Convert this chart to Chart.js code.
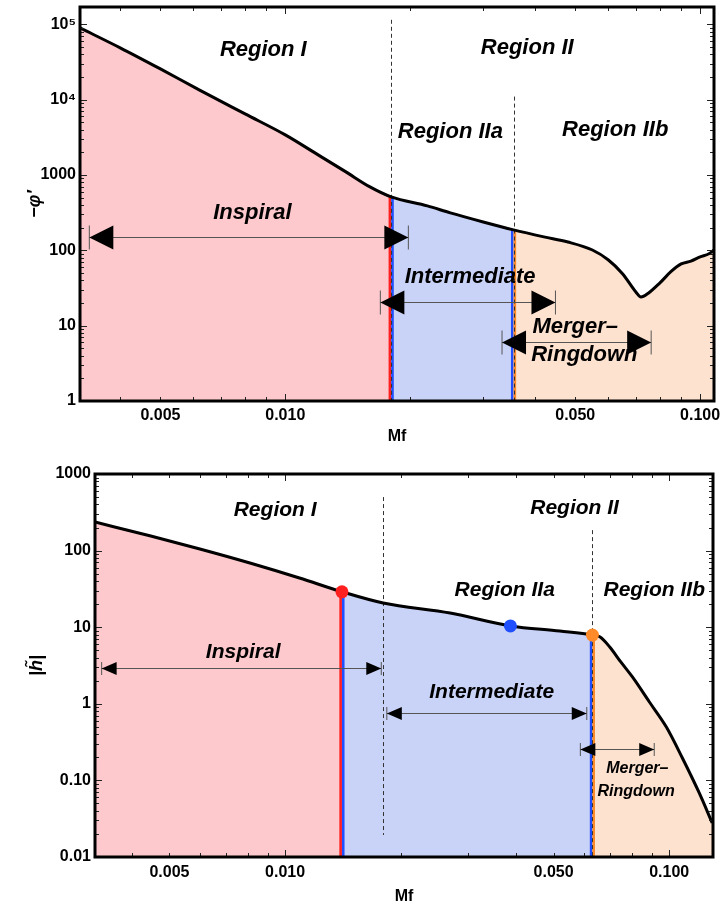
<!DOCTYPE html>
<html>
<head>
<meta charset="utf-8">
<script src="https://cdn.jsdelivr.net/npm/chart.js@4/dist/chart.umd.min.js"></script>
<style>
  html, body { margin: 0; padding: 0; background: #fff; }
  #wrap { position: relative; width: 723px; height: 906px; }
  canvas { position: absolute; left: 0; }
  #phase { top: 0; }
  #amp { top: 452px; }
</style>
</head>
<body>
<div id="wrap">
  <canvas id="phase" width="723" height="452"></canvas>
  <canvas id="amp" width="723" height="454"></canvas>
</div>
<script>
// ---------- upper panel: phase derivative -phi'(Mf) ----------
const phaseMf  = [0.0032, 0.004, 0.005, 0.0062, 0.008, 0.010, 0.012, 0.014, 0.016, 0.018,
                  0.022, 0.025, 0.030, 0.0355, 0.042, 0.048, 0.055, 0.060, 0.065, 0.070,
                  0.072, 0.075, 0.080, 0.085, 0.090, 0.095, 0.100, 0.105, 0.108];
const phaseVal = [89800, 48800, 25600, 13500, 6470, 3410, 1850, 1100, 695, 512,
                  389, 314, 238, 187, 151, 129, 101, 75, 49, 28,
                  24, 27, 37, 52, 66, 72, 82, 90, 101];
const phaseBounds = [0.018, 0.0355];            // Region I | IIa | IIb
const phaseDashX   = [0.018, 0.0355];
const phaseDashTop = [1.15e5, 1.1e4];
const phaseDashBot = [1, 1];
const phaseYTicks  = [1, 10, 100, 1000, 1e4, 1e5];
const phaseYLabels = ['1', '10', '100', '1000', '10\u2074', '10\u2075'];
const phaseArrows  = [            // [from Mf, to Mf, level]
  [0.00337, 0.0198, 151],
  [0.01695, 0.0448, 20.6],
  [0.0333, 0.0762, 6.1]
];
const phaseLabels = [             // [text, Mf, level]
  ['Region I', 0.00885, 4.6e4],
  ['Region II', 0.0383, 4.9e4],
  ['Region IIa', 0.0250, 3.7e3],
  ['Region IIb', 0.0624, 4.0e3],
  ['Inspiral', 0.00833, 314],
  ['Intermediate', 0.0279, 44],
  ['Merger\u2013', 0.0500, 9.6],
  ['Ringdown', 0.0526, 4.1]
];

// ---------- lower panel: amplitude |h~|(Mf) ----------
const ampMf  = [0.0032, 0.00447, 0.0060, 0.0081, 0.0109, 0.01406, 0.018, 0.0269, 0.0386, 0.0519,
                0.0631, 0.0661, 0.0700, 0.0748, 0.0802, 0.0888, 0.0983, 0.1082, 0.1197, 0.1294];
const ampVal = [236, 155, 105, 68.9, 43.9, 29, 20.7, 15.3, 10.4, 8.9,
                7.9, 7.45, 5.52, 3.52, 2.24, 1.055, 0.497, 0.196, 0.0685, 0.0278];
const ampBounds = [0.01406, 0.0631];
const ampDashX   = [0.018, 0.0631];
const ampDashTop = [500, 185];
const ampDashBot = [0.0194, 0.01];
const ampDotsMf  = [0.01406, 0.0386, 0.0631];
const ampDotsVal = [29, 10.4, 7.9];
const ampYTicks  = [0.01, 0.1, 1, 10, 100, 1000];
const ampYLabels = ['0.01', '0.10', '1', '10', '100', '1000'];
const ampArrows = [
  [0.00333, 0.0178, 2.93],
  [0.0184, 0.0610, 0.759],
  [0.0587, 0.0914, 0.257]
];
const ampLabels = [
  ['Region I', 0.00942, 339],
  ['Region II', 0.0567, 360],
  ['Region IIa', 0.0373, 30.6],
  ['Region IIb', 0.0914, 30.6],
  ['Inspiral', 0.00778, 4.75],
  ['Intermediate', 0.0345, 1.43],
  ['Merger\u2013', 0.0826, 0.141],
  ['Ringdown', 0.0820, 0.0706]
];

// shared Mf axis ticks
const mfTicks  = [0.005, 0.010, 0.050, 0.100];
const mfLabels = ['0.005', '0.010', '0.050', '0.100'];

const FILL_I   = '#fdc9cc';
const FILL_IIA = '#c9d2f7';
const FILL_IIB = '#fde2cf';
const RED = '#ff1f1f', BLUE = '#1f4fff', ORANGE = '#ff8a2a';
const FONT = '"Liberation Sans", Arial, sans-serif';

// minor tick positions 2..9 x 10^k inside [lo, hi]
function logMinor(lo, hi) {
  const out = [];
  for (let e = Math.floor(Math.log10(lo)) - 1; e <= Math.ceil(Math.log10(hi)); e++) {
    for (let m = 1; m <= 9; m++) {
      const v = m * Math.pow(10, e);
      if (v >= lo * 0.9999 && v <= hi * 1.0001) out.push({ v, major: m === 1 });
    }
  }
  return out;
}

function sliceRange(xs, ys, a, b) {
  const pts = [];
  xs.forEach((x, i) => { if (x >= a - 1e-12 && x <= b + 1e-12) pts.push({ x, y: ys[i] }); });
  return pts;
}

function drawArrow(ctx, xa, xb, yy, hw, hh) {
  ctx.save();
  ctx.strokeStyle = '#555';
  ctx.lineWidth = 1;
  ctx.beginPath();
  ctx.moveTo(xa, yy); ctx.lineTo(xb, yy);
  ctx.moveTo(xa, yy - hh / 2); ctx.lineTo(xa, yy + hh / 2);
  ctx.moveTo(xb, yy - hh / 2); ctx.lineTo(xb, yy + hh / 2);
  ctx.stroke();
  ctx.fillStyle = '#000';
  ctx.beginPath();
  ctx.moveTo(xa, yy); ctx.lineTo(xa + hw, yy - hh / 2); ctx.lineTo(xa + hw, yy + hh / 2); ctx.closePath();
  ctx.moveTo(xb, yy); ctx.lineTo(xb - hw, yy - hh / 2); ctx.lineTo(xb - hw, yy + hh / 2); ctx.closePath();
  ctx.fill();
  ctx.restore();
}

function overlay(p) {
  return {
    id: 'overlay',
    beforeDatasetDraw(chart, args) {
      if (chart.data.datasets[args.index].label !== 'curve') return;
      const { ctx, chartArea: a, scales: { x, y } } = chart;
      ctx.save();
      ctx.beginPath();
      ctx.rect(a.left, a.top, a.right - a.left, a.bottom - a.top);
      ctx.clip();
      // coloured region boundaries
      const pairs = [[RED, BLUE], [BLUE, ORANGE]];
      p.bounds.forEach((b, i) => {
        const k = p.mf.indexOf(b);
        const px = x.getPixelForValue(b);
        const top = y.getPixelForValue(p.val[k]);
        ctx.lineWidth = 2.6;
        [[-1.3, pairs[i][0]], [1.3, pairs[i][1]]].forEach(([dx, c]) => {
          ctx.strokeStyle = c;
          ctx.beginPath();
          ctx.moveTo(px + dx, top);
          ctx.lineTo(px + dx, a.bottom);
          ctx.stroke();
        });
      });
      // dashed separators
      ctx.setLineDash([4, 3]);
      ctx.lineWidth = 1;
      ctx.strokeStyle = '#333';
      p.dashX.forEach((d, i) => {
        const px = Math.round(x.getPixelForValue(d)) + 0.5;
        ctx.beginPath();
        ctx.moveTo(px, y.getPixelForValue(p.dashTop[i]));
        ctx.lineTo(px, y.getPixelForValue(p.dashBot[i]));
        ctx.stroke();
      });
      ctx.restore();
    },
    afterDatasetsDraw(chart) {
      const { ctx, scales: { x, y } } = chart;
      p.arrows.forEach(([a, b, lv]) => {
        drawArrow(ctx, x.getPixelForValue(a), x.getPixelForValue(b), Math.round(y.getPixelForValue(lv)) + 0.5, p.head[0], p.head[1]);
      });
      ctx.save();
      ctx.fillStyle = '#000';
      ctx.textAlign = 'center';
      ctx.textBaseline = 'middle';
      p.labels.forEach(([t, mf, lv]) => {
        const small = p.smallText && (t === 'Merger\u2013' || t === 'Ringdown');
        ctx.font = 'italic bold ' + (small ? p.smallText : p.textSize) + 'px ' + FONT;
        ctx.fillText(t, x.getPixelForValue(mf), y.getPixelForValue(lv));
      });
      ctx.restore();
    },
    afterDraw(chart) {
      const { ctx, chartArea: a, scales: { x, y } } = chart;
      ctx.save();
      ctx.strokeStyle = '#222';
      ctx.lineWidth = 1;
      ctx.beginPath();
      logMinor(x.min, x.max).forEach(({ v, major }) => {
        const px = Math.round(x.getPixelForValue(v)) + 0.5;
        const len = major ? 7 : 4;
        ctx.moveTo(px, a.bottom); ctx.lineTo(px, a.bottom - len);
        ctx.moveTo(px, a.top); ctx.lineTo(px, a.top + len);
      });
      logMinor(y.min, y.max).forEach(({ v, major }) => {
        const py = Math.round(y.getPixelForValue(v)) + 0.5;
        const len = major ? 7 : 4;
        ctx.moveTo(a.left, py); ctx.lineTo(a.left + len, py);
        ctx.moveTo(a.right, py); ctx.lineTo(a.right - len, py);
      });
      ctx.stroke();
      ctx.strokeStyle = '#000';
      ctx.lineWidth = 3;
      ctx.strokeRect(a.left, a.top, a.right - a.left, a.bottom - a.top);
      ctx.restore();
    }
  };
}

function makePanel(canvasId, p) {
  const datasets = [];
  const regions = [[p.xmin, p.bounds[0], FILL_I], [p.bounds[0], p.bounds[1], FILL_IIA], [p.bounds[1], p.xmax, FILL_IIB]];
  regions.forEach(([a, b, c], i) => {
    datasets.push({
      label: 'fill' + i,
      data: sliceRange(p.mf, p.val, a, b),
      fill: 'start',
      backgroundColor: c,
      borderWidth: 0,
      pointRadius: 0,
      cubicInterpolationMode: 'monotone',
      order: 10
    });
  });
  datasets.push({
    label: 'curve',
    data: p.mf.map((x, i) => ({ x, y: p.val[i] })),
    fill: false,
    borderColor: '#000',
    borderWidth: 3,
    pointRadius: 0,
    cubicInterpolationMode: 'monotone',
    order: 5
  });
  if (p.dotsMf) {
    datasets.push({
      label: 'dots',
      data: p.dotsMf.map((x, i) => ({ x, y: p.dotsVal[i] })),
      showLine: false,
      pointRadius: 6.5,
      pointBorderWidth: 0,
      pointBackgroundColor: [RED, BLUE, ORANGE],
      order: 1
    });
  }

  return new Chart(document.getElementById(canvasId), {
    type: 'line',
    data: { datasets },
    options: {
      responsive: false,
      animation: false,
      devicePixelRatio: 1,
      layout: { padding: p.padding },
      plugins: { legend: { display: false }, tooltip: { enabled: false } },
      elements: { line: { tension: 0 } },
      scales: {
        x: {
          type: 'logarithmic',
          min: p.xmin, max: p.xmax,
          grid: { display: false, drawTicks: false },
          border: { display: false },
          afterBuildTicks: s => { s.ticks = mfTicks.map(v => ({ value: v })); },
          afterFit: s => { s.height = p.xHeight; s.paddingLeft = 0; s.paddingRight = 0; },
          ticks: {
            autoSkip: false, maxRotation: 0, minRotation: 0,
            padding: p.xPad, color: '#000',
            font: { family: FONT, weight: 'bold', size: 16 },
            callback: (v, i) => mfLabels[i]
          },
          title: {
            display: true, text: 'Mf', color: '#000',
            font: { family: FONT, weight: 'bold', size: 16 },
            padding: { top: 0, bottom: p.xTitlePad }
          }
        },
        y: {
          type: 'logarithmic',
          min: p.ymin, max: p.ymax,
          grid: { display: false, drawTicks: false },
          border: { display: false },
          afterBuildTicks: s => { s.ticks = p.yTicks.map(v => ({ value: v })); },
          afterFit: s => { s.width = p.yWidth; s.paddingTop = 0; s.paddingBottom = 0; },
          ticks: {
            autoSkip: false, padding: 4, color: '#000',
            font: { family: FONT, weight: 'bold', size: 16 },
            callback: (v, i) => p.yLabels[i]
          },
          title: {
            display: true, text: p.yTitle, color: '#000',
            font: { family: FONT, weight: 'bold', style: 'italic', size: 18 },
            padding: { top: p.yTitlePad, bottom: 0 }
          }
        }
      }
    },
    plugins: [overlay(p)]
  });
}

makePanel('phase', {
  mf: phaseMf, val: phaseVal, bounds: phaseBounds,
  dashX: phaseDashX, dashTop: phaseDashTop, dashBot: phaseDashBot,
  arrows: phaseArrows, labels: phaseLabels, head: [24, 24],
  textSize: 22,
  xmin: 0.0032, xmax: 0.108, ymin: 1, ymax: 1.7e5,
  yTicks: phaseYTicks, yLabels: phaseYLabels, yTitle: '\u2212\u03c6\u2032',
  padding: { left: 0, right: 9, top: 7, bottom: 0 },
  yWidth: 80, xHeight: 51, xPad: 5, xTitlePad: 6, yTitlePad: 24
});

makePanel('amp', {
  mf: ampMf, val: ampVal, bounds: ampBounds,
  dashX: ampDashX, dashTop: ampDashTop, dashBot: ampDashBot,
  dotsMf: ampDotsMf, dotsVal: ampDotsVal,
  arrows: ampArrows, labels: ampLabels, head: [15, 13],
  textSize: 21, smallText: 16,
  xmin: 0.0032, xmax: 0.13, ymin: 0.01, ymax: 1000,
  yTicks: ampYTicks, yLabels: ampYLabels, yTitle: '|h\u0303|',
  padding: { left: 0, right: 10, top: 22, bottom: 0 },
  yWidth: 95, xHeight: 49, xPad: 6, xTitlePad: 0, yTitlePad: 26
});
</script>
</body>
</html>
